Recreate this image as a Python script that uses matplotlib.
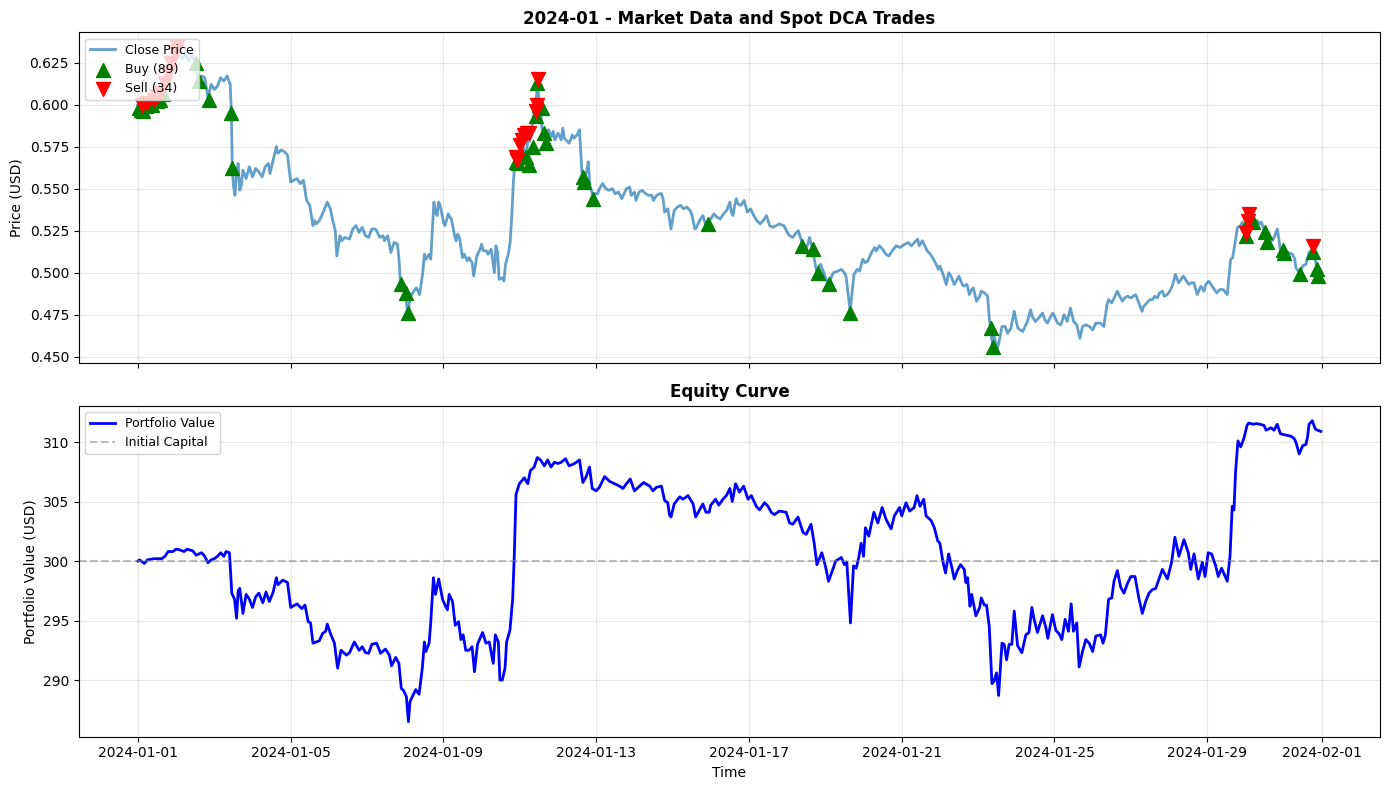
import numpy as np
import matplotlib
matplotlib.use("Agg")
import matplotlib.pyplot as plt

# hours since 2024-01-01 00:00 and close price
price_hours = [0, 2, 4, 6, 8, 10, 12, 14, 16, 18, 20, 22, 24, 26, 28, 30, 32, 34, 36, 38,
               40, 42, 44, 46, 48, 50, 52, 54, 56, 58, 58.7, 59.3, 60, 61, 62, 63, 64, 65, 66, 68,
               70, 72, 74, 76, 78, 80, 82, 83, 85, 87, 88, 90, 92, 94, 96, 98, 100, 102, 104, 106,
               108, 110, 111, 112, 114, 116, 119, 121, 122, 124, 125, 127, 128, 130, 133, 135, 137, 139, 141, 143,
               145, 147, 149, 150, 152, 154, 155, 157, 159, 161, 163, 164, 165, 167, 168, 169, 170, 171, 172, 174,
               175, 177, 179, 180, 181, 183, 184, 186, 187, 188, 189, 190, 192, 193, 195, 196, 197, 199, 200, 201,
               202, 204, 205, 207, 208, 210, 211, 213, 215, 216, 217, 219, 220, 222, 224, 225, 226, 227, 229, 230,
               231, 233, 234, 235, 236, 237, 238, 240, 241, 242, 244, 245, 246, 247, 248, 249, 250, 251, 252, 253,
               254, 255, 256, 257, 258, 260, 261, 262, 264, 266, 267, 268, 270, 271, 273, 274, 276, 277.5, 279, 280,
               282, 283, 284, 285, 286, 287, 289, 290, 292, 294, 296, 298, 300, 302, 304, 305, 307, 309, 310, 312,
               313, 315, 317, 319, 321, 323, 324, 326, 328, 329, 330, 331, 333, 335, 337, 339, 341, 343, 345, 347,
               348, 350, 351, 353, 355, 357, 358, 360, 362, 364, 366, 368, 370, 372, 373, 374, 375, 376, 377, 379,
               381, 383, 385, 387, 389, 391, 393, 395, 397, 399, 401, 403, 406, 408, 409.5, 411.6, 413, 415, 418, 420,
               421, 422, 424, 426, 427, 428, 429, 431, 432.5, 434, 436, 437, 440, 442, 444, 445, 446, 447.6, 449, 450,
               452, 453.5, 455.5, 457, 458.7, 461, 463, 464, 466, 468, 470, 472, 474, 476.5, 479, 482, 484, 486, 488, 490,
               491, 493, 494, 496, 498, 500, 501.6, 503, 504, 506, 508, 509.5, 511, 513, 516, 518, 519, 521, 522.5, 524,
               525, 527, 529, 530, 532, 533, 534, 535, 536, 537, 538, 539, 540, 541, 543, 545, 546.5, 548.6, 550.7, 552,
               553, 556, 559, 561, 562, 564, 566, 568.5, 570, 571.6, 573, 575, 578, 580, 582, 584, 586, 588, 590, 592,
               593.6, 595.7, 598, 600, 602, 605, 607, 609, 610, 612, 614, 615.5, 617, 618.7, 620, 622, 624, 627, 629, 631,
               632, 634, 636, 637.5, 639, 640.6, 642, 643.8, 645, 647, 649, 650, 652, 654, 655.5, 657, 659, 660.5, 662, 663.6,
               665.7, 668, 670, 671, 673, 675, 678, 680, 682, 684.6, 686.7, 688, 689, 691, 693, 694, 696, 697, 699, 700,
               702, 703.5, 705, 706, 708, 709, 711, 713, 714.5, 716, 717, 718, 719.5, 721, 723, 725.6, 727, 727.7, 730, 732,
               734, 736, 738, 740, 741, 743]
close_price = [0.600, 0.598, 0.601, 0.599, 0.602, 0.603, 0.605, 0.607, 0.611, 0.617, 0.624, 0.629, 0.633, 0.631, 0.627, 0.630, 0.626, 0.629, 0.625, 0.613,
               0.617, 0.616, 0.604, 0.612, 0.609, 0.611, 0.616, 0.614, 0.617, 0.612, 0.596, 0.562, 0.552, 0.546, 0.560, 0.565, 0.549, 0.552, 0.561, 0.556,
               0.563, 0.557, 0.562, 0.560, 0.557, 0.563, 0.565, 0.559, 0.567, 0.575, 0.571, 0.573, 0.572, 0.570, 0.554, 0.555, 0.556, 0.553, 0.555, 0.543,
               0.540, 0.528, 0.531, 0.529, 0.531, 0.535, 0.542, 0.538, 0.533, 0.525, 0.510, 0.522, 0.519, 0.521, 0.520, 0.526, 0.528, 0.524, 0.527, 0.522,
               0.521, 0.526, 0.526, 0.525, 0.521, 0.522, 0.519, 0.522, 0.512, 0.518, 0.517, 0.509, 0.494, 0.490, 0.488, 0.480, 0.476, 0.486, 0.487, 0.490,
               0.491, 0.487, 0.500, 0.511, 0.508, 0.511, 0.508, 0.542, 0.536, 0.534, 0.542, 0.540, 0.530, 0.528, 0.535, 0.533, 0.532, 0.522, 0.519, 0.523,
               0.521, 0.509, 0.511, 0.507, 0.509, 0.506, 0.498, 0.510, 0.514, 0.517, 0.513, 0.513, 0.511, 0.514, 0.500, 0.516, 0.512, 0.496, 0.497, 0.495,
               0.505, 0.512, 0.519, 0.535, 0.555, 0.566, 0.568, 0.572, 0.567, 0.575, 0.569, 0.579, 0.578, 0.580, 0.590, 0.595, 0.598, 0.613, 0.603, 0.597,
               0.585, 0.583, 0.578, 0.581, 0.585, 0.581, 0.584, 0.579, 0.583, 0.579, 0.586, 0.580, 0.578, 0.577, 0.582, 0.580, 0.582, 0.585, 0.560, 0.556,
               0.560, 0.566, 0.552, 0.549, 0.545, 0.547, 0.547, 0.550, 0.553, 0.550, 0.549, 0.550, 0.547, 0.548, 0.544, 0.546, 0.550, 0.551, 0.546, 0.548,
               0.543, 0.548, 0.549, 0.547, 0.546, 0.546, 0.543, 0.546, 0.547, 0.547, 0.544, 0.536, 0.538, 0.526, 0.537, 0.539, 0.540, 0.538, 0.539, 0.537,
               0.535, 0.526, 0.527, 0.531, 0.534, 0.528, 0.530, 0.532, 0.535, 0.533, 0.532, 0.535, 0.537, 0.542, 0.536, 0.534, 0.540, 0.544, 0.541, 0.540,
               0.543, 0.536, 0.538, 0.534, 0.531, 0.529, 0.531, 0.534, 0.528, 0.527, 0.528, 0.529, 0.528, 0.524, 0.522, 0.521, 0.523, 0.525, 0.516, 0.515,
               0.517, 0.521, 0.514, 0.503, 0.499, 0.504, 0.505, 0.500, 0.496, 0.493, 0.498, 0.500, 0.501, 0.502, 0.500, 0.498, 0.490, 0.477, 0.490, 0.499,
               0.502, 0.501, 0.508, 0.506, 0.507, 0.512, 0.515, 0.513, 0.516, 0.514, 0.511, 0.510, 0.513, 0.516, 0.515, 0.517, 0.518, 0.516, 0.518, 0.520,
               0.516, 0.519, 0.517, 0.513, 0.511, 0.508, 0.505, 0.502, 0.504, 0.499, 0.493, 0.500, 0.498, 0.493, 0.498, 0.493, 0.492, 0.493, 0.487, 0.490,
               0.491, 0.483, 0.486, 0.489, 0.488, 0.487, 0.486, 0.473, 0.466, 0.457, 0.462, 0.459, 0.455, 0.458, 0.468, 0.468, 0.464, 0.467, 0.477, 0.471,
               0.467, 0.465, 0.471, 0.478, 0.474, 0.471, 0.473, 0.476, 0.472, 0.470, 0.473, 0.476, 0.470, 0.469, 0.475, 0.471, 0.479, 0.471, 0.469, 0.461,
               0.468, 0.469, 0.468, 0.466, 0.470, 0.470, 0.468, 0.481, 0.484, 0.482, 0.486, 0.489, 0.486, 0.483, 0.485, 0.486, 0.485, 0.487, 0.482, 0.477,
               0.480, 0.482, 0.484, 0.484, 0.486, 0.485, 0.488, 0.489, 0.486, 0.487, 0.490, 0.492, 0.499, 0.494, 0.496, 0.498, 0.495, 0.493, 0.494, 0.494,
               0.487, 0.492, 0.489, 0.493, 0.495, 0.492, 0.488, 0.490, 0.490, 0.487, 0.508, 0.509, 0.515, 0.527, 0.528, 0.530, 0.523, 0.532, 0.535, 0.530,
               0.529, 0.531, 0.529, 0.530, 0.525, 0.520, 0.520, 0.519, 0.522, 0.526, 0.520, 0.513, 0.514, 0.512, 0.512, 0.511, 0.508, 0.503, 0.500, 0.504,
               0.505, 0.512, 0.514, 0.507, 0.502, 0.499]

buy_hours = [0.5, 2, 3.5, 5, 7, 9, 12, 14, 16, 36.5, 38.4, 44.7, 58.7, 59.3,
             165.2, 168.3, 170, 237.5, 239, 241, 244, 246, 248, 250, 251, 252, 254, 255.3, 256.4,
             279.5, 280.5, 285.7, 358, 417.4, 424, 427.2, 434, 447.8, 536.2, 537.3,
             696.6, 697.7, 700.5, 708.2, 709.6, 719.7, 720.5, 730.2, 738.5, 740.7, 741.3]
buy_price = [0.598, 0.597, 0.596, 0.599, 0.601, 0.600, 0.602, 0.603, 0.606, 0.625, 0.614, 0.603, 0.595, 0.562,
             0.4935, 0.488, 0.476, 0.566, 0.565, 0.570, 0.569, 0.564, 0.575, 0.593, 0.613, 0.600, 0.598, 0.583, 0.577,
             0.557, 0.554, 0.544, 0.529, 0.516, 0.514, 0.500, 0.493, 0.476, 0.467, 0.456,
             0.522, 0.530, 0.530, 0.524, 0.518, 0.5135, 0.512, 0.4993, 0.5123, 0.502, 0.4983]

sell_hours = [2.5, 6, 10, 12, 14, 17, 19, 21, 23, 24.5,
              237.7, 238.5, 240.2, 241.5, 242.8, 244.5, 245.9, 250.3, 251.1, 251.6,
              696.5, 697.7, 698.5, 738.5]
sell_price = [0.600, 0.601, 0.603, 0.605, 0.607, 0.613, 0.619, 0.625, 0.631, 0.634,
              0.569, 0.567, 0.576, 0.579, 0.582, 0.583, 0.583, 0.596, 0.600, 0.615,
              0.5236, 0.531, 0.535, 0.5157]
n_buys, n_sells = 89, 34

# portfolio value (hours since start, USD)
equity_hours = [0, 1, 4, 6, 10, 15, 17, 19, 22, 24, 26, 29, 31, 34.5, 36.6, 40, 42, 44, 46, 48,
                50, 52, 54, 55.4, 57.5, 59, 60.7, 62, 63, 64, 66, 68, 70, 72, 74, 76, 78.5, 80.5, 82.6, 85,
                87, 88, 91, 94, 96, 100, 103, 105, 107, 108.5, 110, 112, 114, 116, 118, 119, 121, 123.5, 125.5, 127.6,
                131, 133, 136, 139, 141, 143, 145, 147, 150, 152.5, 155.6, 158, 159.4, 162, 164, 165.5, 167, 168.7, 170, 171,
                173.5, 174.6, 176.7, 178.8, 180, 181, 183, 184, 185.7, 187, 189, 191.4, 193, 194.5, 195.6, 197.7, 199.4, 201.5, 203, 204.4,
                206, 208, 210, 211.5, 213.4, 216.6, 218.7, 220.8, 223.3, 224.6, 226.5, 227.5, 229, 230.7, 231.7, 233.8, 235.5, 236.5, 237.6, 239.7,
                242.8, 245, 246.6, 249, 251, 253, 255.4, 257.5, 259.6, 261.7, 264, 266, 268.7, 271, 274.4, 277.5, 279.6, 281.7, 283.8, 285.5,
                288, 290, 293.3, 296.4, 299.6, 302.7, 304.8, 307, 309.4, 312, 315.3, 317.8, 321.6, 323.7, 325.8, 329, 331, 333, 334, 335,
                337, 340.5, 342.6, 345.7, 348.9, 350.5, 355, 357, 359, 360, 363, 365, 367.7, 369.8, 372, 373.5, 375.6, 378, 380.7, 383.4,
                385.5, 388.6, 390.7, 393.8, 396, 398, 400, 403, 407.4, 409.5, 411.6, 414.8, 418, 420, 423, 425, 426.7, 429.8, 432, 434,
                436.7, 438.5, 442, 444, 445.5, 447.8, 449.7, 451.4, 453, 454.5, 456, 457.2, 459.3, 462.5, 465, 467.7, 470.2, 473.3, 475.4, 478.6,
                480, 482.7, 485, 487.8, 489.6, 491.5, 493.8, 495.3, 498.5, 500.5, 502.6, 504, 505.8, 507.5, 509.5, 511.6, 513, 515, 517, 519.3,
                520.3, 521.4, 522.9, 524, 526.6, 529, 530, 531.9, 533.3, 535, 536.7, 538, 539.6, 540.9, 543, 544.4, 545.9, 547.5, 549.2, 550.7,
                552.8, 555.5, 558, 560, 561.8, 563.2, 565.3, 568.5, 570.6, 571.8, 574.7, 576.8, 579.3, 580.6, 582.7, 584.8, 586.5, 587.9, 590, 591.5,
                593.6, 595.7, 597.8, 600, 602, 605, 606.5, 608, 610, 612, 613.4, 615.5, 617.6, 619.7, 621.8, 624, 626.6, 629, 631.2, 633.3,
                635.4, 637.5, 639.6, 641.7, 643.8, 647, 649.6, 651.7, 654.2, 657.4, 660.1, 661.6, 663.7, 666.4, 668.9, 670.6, 672.6, 674.7, 677.3, 678.9,
                681, 684.6, 686.3, 687.7, 688.8, 689.8, 691.3, 693, 695, 697, 698, 701, 703, 705, 707.7, 709, 712, 714, 716, 718,
                721, 724.5, 726.6, 727.7, 729.8, 732, 734, 735, 736, 738, 739.9, 741.3, 743.4]
portfolio_value = [300.0, 300.1, 299.8, 300.1, 300.2, 300.2, 300.4, 300.8, 300.8, 301.0, 300.95, 300.8, 301.0, 300.85, 300.5, 300.7, 300.4, 299.86, 300.1, 300.2,
                   300.4, 300.7, 300.4, 300.8, 300.7, 297.3, 296.8, 295.2, 297.5, 297.7, 295.6, 297.2, 296.8, 296.1, 297.0, 297.3, 296.5, 297.4, 296.6, 297.4,
                   298.6, 298.0, 298.4, 298.2, 296.1, 296.4, 296.0, 296.3, 294.9, 294.8, 293.1, 293.2, 293.3, 293.9, 294.1, 294.7, 293.9, 293.1, 291.0, 292.5,
                   292.1, 292.3, 293.2, 292.5, 292.8, 292.3, 292.25, 293.0, 293.1, 292.25, 292.6, 292.1, 291.2, 291.9, 291.4, 289.3, 289.1, 288.6, 286.5, 288.2,
                   288.9, 289.2, 288.8, 291.1, 293.2, 292.4, 293.1, 294.8, 298.6, 297.2, 298.5, 296.8, 296.3, 295.9, 297.2, 296.6, 294.6, 294.9, 293.4, 293.8,
                   292.5, 292.5, 292.8, 290.7, 293.0, 294.0, 293.1, 293.2, 291.4, 293.8, 293.2, 290.0, 290.0, 291.0, 293.2, 294.2, 296.8, 300.4, 305.6, 306.5,
                   307.0, 306.5, 307.6, 307.9, 308.7, 308.5, 308.0, 308.5, 307.9, 308.3, 308.2, 308.3, 308.6, 308.0, 308.2, 308.5, 306.6, 307.1, 307.9, 306.1,
                   305.9, 306.2, 307.1, 306.7, 306.5, 306.3, 306.1, 306.5, 306.9, 305.9, 306.3, 306.6, 306.3, 305.9, 306.2, 306.3, 305.1, 304.9, 303.9, 303.7,
                   304.8, 305.4, 305.2, 305.5, 304.8, 303.7, 304.8, 304.1, 304.1, 304.7, 305.2, 304.7, 305.2, 305.5, 306.1, 305.0, 306.5, 305.8, 306.3, 305.2,
                   305.5, 304.6, 304.3, 304.9, 304.6, 304.1, 303.9, 304.2, 304.1, 303.2, 303.1, 303.7, 302.4, 302.25, 303.1, 301.5, 299.7, 300.7, 299.6, 298.3,
                   299.3, 300.0, 300.3, 299.7, 299.9, 294.8, 299.6, 299.4, 300.3, 301.5, 300.4, 302.8, 302.1, 304.1, 303.2, 304.5, 303.5, 302.7, 303.8, 304.5,
                   303.8, 304.9, 304.2, 304.5, 305.5, 304.6, 305.2, 303.8, 303.4, 302.8, 301.7, 301.5, 300.0, 299.0, 300.6, 299.4, 298.5, 299.2, 299.7, 299.3,
                   298.2, 298.6, 296.2, 297.2, 295.4, 296.1, 296.9, 296.3, 296.3, 294.5, 289.7, 289.9, 290.6, 288.7, 293.1, 293.0, 291.7, 293.0, 293.0, 295.8,
                   292.9, 292.3, 293.8, 294.0, 296.1, 295.1, 294.0, 295.4, 294.4, 293.5, 295.5, 294.2, 293.8, 293.4, 295.1, 294.1, 296.4, 294.1, 294.8, 291.1,
                   292.4, 293.4, 293.1, 292.4, 293.7, 293.8, 293.1, 293.8, 296.8, 296.9, 298.3, 299.2, 297.8, 297.3, 298.1, 298.7, 298.7, 296.9, 295.6, 296.6,
                   297.3, 297.6, 297.7, 298.5, 299.3, 298.5, 299.9, 302.0, 300.4, 301.8, 300.7, 299.3, 300.6, 298.5, 299.9, 298.7, 300.7, 300.6, 299.6, 298.7,
                   299.4, 298.3, 300.4, 304.6, 304.3, 307.5, 310.1, 309.6, 310.3, 311.4, 311.6, 311.5, 311.55, 311.5, 311.4, 311.0, 311.2, 311.0, 311.5, 310.7,
                   310.6, 310.5, 310.3, 310.0, 309.0, 309.7, 309.8, 310.4, 311.5, 311.8, 311.1, 311.0, 310.9]
initial_capital = 300


def to_time(hours):
    minutes = np.round(np.array(hours) * 60).astype(int)
    return np.datetime64('2024-01-01T00:00') + minutes.astype('timedelta64[m]')


fig, (ax1, ax2) = plt.subplots(2, 1, figsize=(14, 8), dpi=100, sharex=True)

ax1.plot(to_time(price_hours), close_price, label='Close Price', linewidth=2, alpha=0.7)
ax1.scatter(to_time(buy_hours), buy_price, color='green', marker='^', s=100,
            label=f'Buy ({n_buys})', zorder=5)
ax1.scatter(to_time(sell_hours), sell_price, color='red', marker='v', s=100,
            label=f'Sell ({n_sells})', zorder=5)
ax1.set_title('2024-01 - Market Data and Spot DCA Trades', fontsize=12, fontweight='bold')
ax1.set_ylabel('Price (USD)')
ax1.legend(loc='upper left', fontsize=9)
ax1.grid(True, alpha=0.3)

ax2.plot(to_time(equity_hours), portfolio_value, color='blue', linewidth=2, label='Portfolio Value')
ax2.axhline(initial_capital, color='gray', linestyle='--', alpha=0.5, label='Initial Capital')
ax2.set_title('Equity Curve', fontsize=12, fontweight='bold')
ax2.set_xlabel('Time')
ax2.set_ylabel('Portfolio Value (USD)')
ax2.legend(loc='upper left', fontsize=9)
ax2.grid(True, alpha=0.3)

plt.tight_layout()
plt.savefig('out.png', bbox_inches='tight')
